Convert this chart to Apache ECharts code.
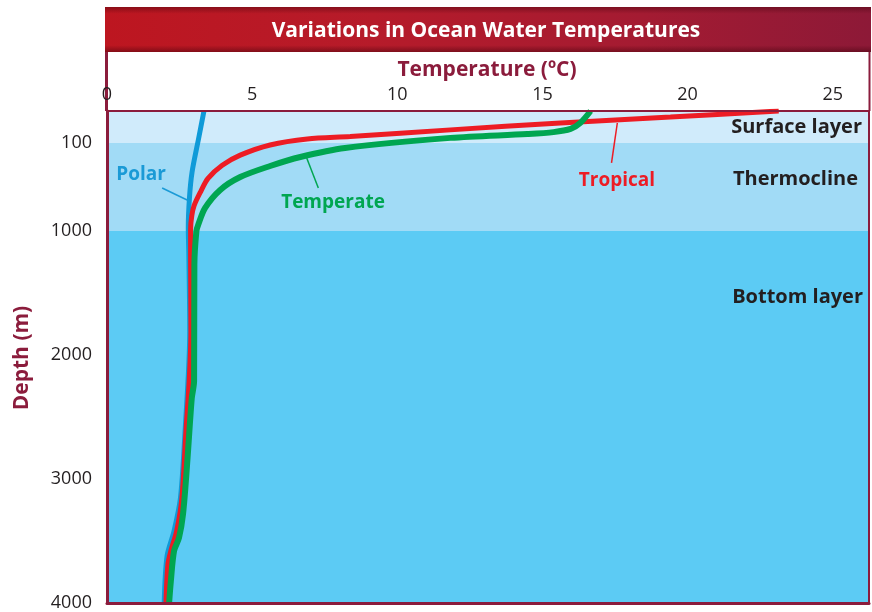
<!DOCTYPE html>
<html><head><meta charset="utf-8">
<script src="https://cdn.jsdelivr.net/npm/echarts@6/dist/echarts.min.js"></script>
<style>html,body{margin:0;padding:0;background:#fff}#c{width:872px;height:612px}</style>
</head><body><div id="c"></div>
<script>
// ---- data ----
const xTicks = [0, 5, 10, 15, 20, 25];
const depthTicks = [100, 1000, 2000, 3000, 4000];
const layerNames = ['Surface layer', 'Thermocline', 'Bottom layer'];
const layerTop = [0, 100, 1000];
const layerBottom = [100, 1000, 4000];

const polarDepth = [0, 84, 397, 663, 969, 1200, 1810, 2614, 3154, 3420, 3620, 4000];
const polarTemp  = [3.34, 3.16, 2.93, 2.84, 2.80, 2.82, 2.85, 2.69, 2.53, 2.31, 2.07, 1.97];

const tropicalDepth = [0, 19, 37.5, 59, 80, 87.5, 120, 224, 328, 462, 607, 741, 845, 979, 1200, 1810, 2212, 2614, 3154, 3420, 3580, 3685, 4000];
const tropicalTemp  = [23.14, 19.41, 15.62, 11.83, 8.38, 6.90, 5.62, 4.59, 3.97, 3.48, 3.21, 3.0, 2.92, 2.88, 2.88, 2.89, 2.83, 2.72, 2.58, 2.40, 2.20, 2.10, 2.03];

const temperateDepth = [0, 37.5, 56, 66, 72, 84, 151, 243, 335, 448, 580, 764, 938, 1000, 1270, 2212, 2349, 2880, 3282, 3475, 3580, 3822, 4000];
const temperateTemp  = [16.66, 16.3, 15.97, 15.38, 14.48, 11.83, 8.2, 6.66, 5.62, 4.59, 3.90, 3.38, 3.14, 3.08, 3.01, 3.0, 2.92, 2.76, 2.62, 2.48, 2.31, 2.20, 2.14];

// ---- piecewise depth scale (as in the original figure) ----
function T(d) {
  if (d <= 100) return d / 100 * 0.258;
  if (d <= 1000) return 0.258 + (d - 100) / 900 * 0.71;
  return 0.968 + (d - 1000) / 1000;
}
const DR = '#8b1c3c';
const INK = '#231f20';
const FONT = 'Open Sans';
const layerColors = ['#d0ebfb', '#a1dbf6', '#5ccbf4'];

const pts = (t, d) => t.map((v, i) => [v, T(d[i])]);

const chart = echarts.init(document.getElementById('c'), null, {renderer: 'canvas'});
const tickMap = {};
depthTicks.forEach(d => { tickMap[T(d).toFixed(4)] = String(d); });

function leader(t1, d1, t2, d2, color) {
  return {
    silent: true, symbol: 'none', label: {show: false},
    lineStyle: {color: color, width: 1.5, type: 'solid'},
    data: [[{coord: [t1, T(d1)]}, {coord: [t2, T(d2)]}]]
  };
}

const option = {
  animation: false,
  backgroundColor: '#fff',
  grid: {left: 107, right: 3, top: 111, bottom: 9},
  xAxis: [{
    type: 'value', position: 'top', min: 0, max: 26.25, interval: 5, z: 10,
    axisLine: {show: true, onZero: false, lineStyle: {color: DR, width: 2}},
    axisTick: {show: false}, splitLine: {show: false},
    axisLabel: {customValues: xTicks, color: INK, fontSize: 18, fontFamily: FONT, margin: 7}
  }, {
    type: 'value', position: 'bottom', min: 0, max: 26.25, z: 10,
    axisLine: {show: true, onZero: false, lineStyle: {color: DR, width: 3}},
    axisTick: {show: false}, splitLine: {show: false}, axisLabel: {show: false}
  }],
  yAxis: [{
    type: 'value', inverse: true, min: 0, max: T(4000), z: 10,
    axisLine: {show: true, onZero: false, lineStyle: {color: DR, width: 3}},
    axisTick: {show: false}, splitLine: {show: false},
    axisLabel: {
      customValues: depthTicks.map(T), color: INK, fontSize: 18, fontFamily: FONT, margin: 15,
      formatter: v => tickMap[Number(v).toFixed(4)] || ''
    }
  }, {
    type: 'value', position: 'right', inverse: true, min: 0, max: T(4000), z: 10,
    axisLine: {show: true, onZero: false, lineStyle: {color: DR, width: 2}},
    axisTick: {show: false}, splitLine: {show: false}, axisLabel: {show: false}
  }],
  series: [
    {
      type: 'line', name: 'bands', data: [], silent: true, z: 1,
      markArea: {
        silent: true,
        data: layerNames.map((n, i) => [
          {yAxis: T(layerTop[i]), itemStyle: {color: layerColors[i]}},
          {yAxis: T(layerBottom[i])}
        ])
      }
    },
    {
      type: 'line', name: 'Polar', data: pts(polarTemp, polarDepth), smooth: 0.3,
      showSymbol: false, z: 3, lineStyle: {color: '#0f9ad8', width: 5}, itemStyle: {color: '#0f9ad8'},
      markLine: leader(1.90, 560, 2.76, 683, '#1a9ad6')
    },
    {
      type: 'line', name: 'Tropical', data: pts(tropicalTemp, tropicalDepth), smooth: 0.3,
      showSymbol: false, z: 4, lineStyle: {color: '#ed1c24', width: 5}, itemStyle: {color: '#ed1c24'},
      markLine: leader(17.58, 37.5, 17.38, 304, '#ed1c24')
    },
    {
      type: 'line', name: 'Temperate', data: pts(temperateTemp, temperateDepth), smooth: 0.3,
      showSymbol: false, z: 5, lineStyle: {color: '#00a651', width: 6}, itemStyle: {color: '#00a651'},
      markLine: leader(6.88, 253, 7.28, 560, '#00a651')
    }
  ],
  graphic: [
    // title bar
    {type: 'rect', shape: {x: 105, y: 7, width: 766, height: 45}, z: 1,
     style: {fill: new echarts.graphic.LinearGradient(0, 0, 1, 0, [
       {offset: 0, color: '#bd1620'}, {offset: 0.35, color: '#b61b2a'},
       {offset: 0.7, color: '#a41b32'}, {offset: 1, color: '#8d1937'}])}},
    {type: 'rect', shape: {x: 105, y: 7, width: 766, height: 45}, z: 2,
     style: {fill: new echarts.graphic.LinearGradient(0, 0, 0, 1, [
       {offset: 0, color: 'rgba(60,0,10,0.4)'}, {offset: 0.15, color: 'rgba(60,0,10,0)'},
       {offset: 0.85, color: 'rgba(60,0,10,0)'}, {offset: 1, color: 'rgba(60,0,10,0.45)'}])}},
    {type: 'text', x: 486, y: 31, z: 5,
     style: {text: 'Variations in Ocean Water Temperatures', fill: '#fff', font: 'bold 21px "Open Sans"',
             textAlign: 'center', textVerticalAlign: 'middle'}},
    // header box sides
    {type: 'line', shape: {x1: 106.5, y1: 52, x2: 106.5, y2: 111}, style: {stroke: DR, lineWidth: 3}, z: 5},
    {type: 'line', shape: {x1: 869.5, y1: 52, x2: 869.5, y2: 111}, style: {stroke: DR, lineWidth: 2}, z: 5},
    // axis titles
    {type: 'text', x: 487, y: 70, z: 5,
     style: {text: 'Temperature (ºC)', fill: DR, font: 'bold 21px "Open Sans"', textAlign: 'center', textVerticalAlign: 'middle'}},
    {type: 'text', x: 22, y: 358, rotation: Math.PI / 2, z: 5,
     style: {text: 'Depth (m)', fill: DR, font: 'bold 21px "Open Sans"', textAlign: 'center', textVerticalAlign: 'middle'}},
    // layer labels
    {type: 'text', x: 862, y: 127, z: 20, style: {text: layerNames[0], fill: INK, font: 'bold 20px "Open Sans"', textAlign: 'right', textVerticalAlign: 'middle'}},
    {type: 'text', x: 858, y: 179, z: 20, style: {text: layerNames[1], fill: INK, font: 'bold 20px "Open Sans"', textAlign: 'right', textVerticalAlign: 'middle'}},
    {type: 'text', x: 863, y: 297, z: 20, style: {text: layerNames[2], fill: INK, font: 'bold 20px "Open Sans"', textAlign: 'right', textVerticalAlign: 'middle'}},
    // series labels
    {type: 'text', x: 141, y: 175, z: 20, style: {text: 'Polar', fill: '#1a9ad6', font: 'bold 19px "Open Sans"', textAlign: 'center', textVerticalAlign: 'middle'}},
    {type: 'text', x: 333, y: 203, z: 20, style: {text: 'Temperate', fill: '#00a651', font: 'bold 19px "Open Sans"', textAlign: 'center', textVerticalAlign: 'middle'}},
    {type: 'text', x: 617, y: 181, z: 20, style: {text: 'Tropical', fill: '#ed1c24', font: 'bold 19px "Open Sans"', textAlign: 'center', textVerticalAlign: 'middle'}}
  ]
};
chart.setOption(option);
</script>
</body></html>
